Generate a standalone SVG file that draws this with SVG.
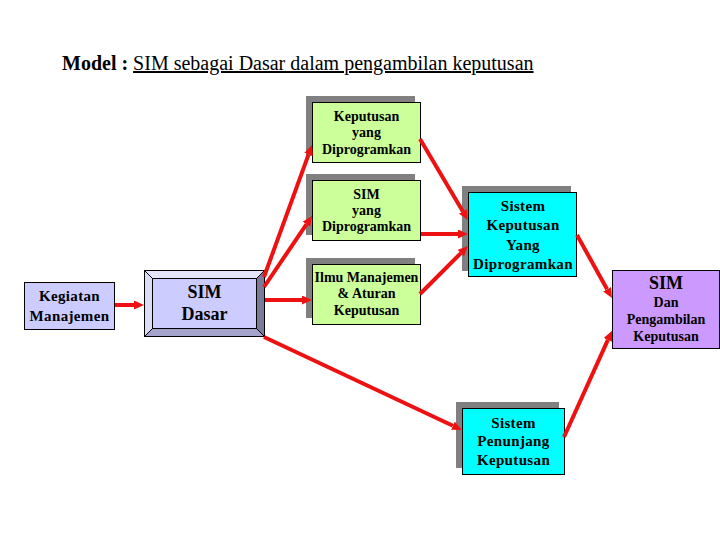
<svg xmlns="http://www.w3.org/2000/svg" width="720" height="540" viewBox="0 0 720 540">
<defs>
<marker id="ah" markerUnits="userSpaceOnUse" markerWidth="11" markerHeight="10" refX="0" refY="4.5" orient="auto" viewBox="0 0 11 10">
<path d="M0,0 L10,4.5 L0,9 z" fill="#ee1111"/>
</marker>
<style>
text{font-family:"Liberation Serif","Times New Roman",serif;fill:#000;text-anchor:middle}
.sh{fill:#808080}
.g{fill:#ccff99;stroke:#000;stroke-width:1}
.c{fill:#00ffff;stroke:#000;stroke-width:1}
.l{fill:#ccccff;stroke:#000;stroke-width:1}
.p{fill:#cc99ff;stroke:#000;stroke-width:1}
.t14{font-size:14px;font-weight:bold}
.sp{font-size:15px;font-weight:bold;letter-spacing:0.35px}
.b18{font-size:18px;font-weight:bold}
.cn path{fill:none;stroke:#ee1111;stroke-width:4;marker-end:url(#ah)}
</style>
</defs>
<rect width="720" height="540" fill="#fff"/>
<g id="title">
<text x="62" y="70" style="text-anchor:start;font-size:20px"><tspan font-weight="bold">Model :</tspan> <tspan text-decoration="underline">SIM sebagai Dasar dalam pengambilan keputusan</tspan></text>
</g>
<g id="kegiatan">
<rect class="l" x="24.5" y="282.5" width="90" height="47"/>
<text class="sp" x="69.5" y="301">Kegiatan</text>
<text class="sp" x="69.5" y="321">Manajemen</text>
</g>
<g id="simdasar">
<rect x="144.5" y="270.5" width="120" height="66" fill="#ccccff"/>
<polygon points="144.5,270.5 264.5,270.5 256.5,278.5 152.5,278.5" fill="#e4e4fa"/>
<polygon points="144.5,270.5 152.5,278.5 152.5,328.5 144.5,336.5" fill="#dcdcf4"/>
<polygon points="144.5,336.5 152.5,328.5 256.5,328.5 264.5,336.5" fill="#a3a3cc"/>
<polygon points="264.5,270.5 264.5,336.5 256.5,328.5 256.5,278.5" fill="#7a7a99"/>
<rect x="144.5" y="270.5" width="120" height="66" fill="none" stroke="#000"/>
<rect x="152.5" y="278.5" width="104" height="50" fill="none" stroke="#000"/>
<line x1="144.5" y1="270.5" x2="152.5" y2="278.5" stroke="#000"/>
<line x1="264.5" y1="270.5" x2="256.5" y2="278.5" stroke="#000"/>
<line x1="144.5" y1="336.5" x2="152.5" y2="328.5" stroke="#000"/>
<line x1="264.5" y1="336.5" x2="256.5" y2="328.5" stroke="#000"/>
<text class="b18" x="204.5" y="298">SIM</text>
<text class="b18" x="204.5" y="320">Dasar</text>
</g>
<g id="keputusan-diprogramkan">
<rect class="sh" x="306" y="96" width="109" height="60"/>
<rect class="g" x="312.5" y="102.5" width="108" height="60"/>
<text class="t14" x="366.5" y="121">Keputusan</text>
<text class="t14" x="366.5" y="137">yang</text>
<text class="t14" x="366.5" y="154">Diprogramkan</text>
</g>
<g id="sim-diprogramkan">
<rect class="sh" x="306" y="174" width="109" height="61"/>
<rect class="g" x="312.5" y="180.5" width="108" height="60"/>
<text class="t14" x="366.5" y="199">SIM</text>
<text class="t14" x="366.5" y="215">yang</text>
<text class="t14" x="366.5" y="231">Diprogramkan</text>
</g>
<g id="ilmu-manajemen">
<rect class="sh" x="306" y="258" width="109" height="60"/>
<rect class="g" x="312.5" y="264.5" width="108" height="60"/>
<text class="t14" x="366.5" y="282">Ilmu Manajemen</text>
<text class="t14" x="366.5" y="298">&amp; Aturan</text>
<text class="t14" x="366.5" y="315">Keputusan</text>
</g>
<g id="sistem-keputusan">
<rect class="sh" x="462" y="186" width="109" height="85"/>
<rect class="c" x="468.5" y="192.5" width="108" height="84"/>
<text class="sp" x="523" y="211">Sistem</text>
<text class="sp" x="523" y="230">Keputusan</text>
<text class="sp" x="523" y="250">Yang</text>
<text class="sp" x="523" y="269">Diprogramkan</text>
</g>
<g id="sistem-penunjang">
<rect class="sh" x="456" y="402" width="103" height="66"/>
<rect class="c" x="462.5" y="408.5" width="102" height="66"/>
<text class="sp" x="513.5" y="428">Sistem</text>
<text class="sp" x="513.5" y="446">Penunjang</text>
<text class="sp" x="513.5" y="465">Keputusan</text>
</g>
<g id="sim-pengambilan">
<rect class="p" x="612.5" y="270.5" width="107" height="78"/>
<text class="b18" x="666" y="289">SIM</text>
<text class="t14" x="666" y="307">Dan</text>
<text class="t14" x="666" y="324">Pengambilan</text>
<text class="t14" x="666" y="341">Keputusan</text>
</g>
<g id="connectors" class="cn">
<path d="M115,305 L134,305"/>
<path d="M264,277 L308.6,154.4"/>
<path d="M264,287 L306.4,224.3"/>
<path d="M265,300 L302,300"/>
<path d="M264,337 L452.9,425.7"/>
<path d="M420,139 L462.9,211.4"/>
<path d="M421,234 L458,234"/>
<path d="M420,294 L460.9,253.1"/>
<path d="M577,235 L607.1,289.3"/>
<path d="M564,437 L607.9,339.9"/>
</g>
</svg>
